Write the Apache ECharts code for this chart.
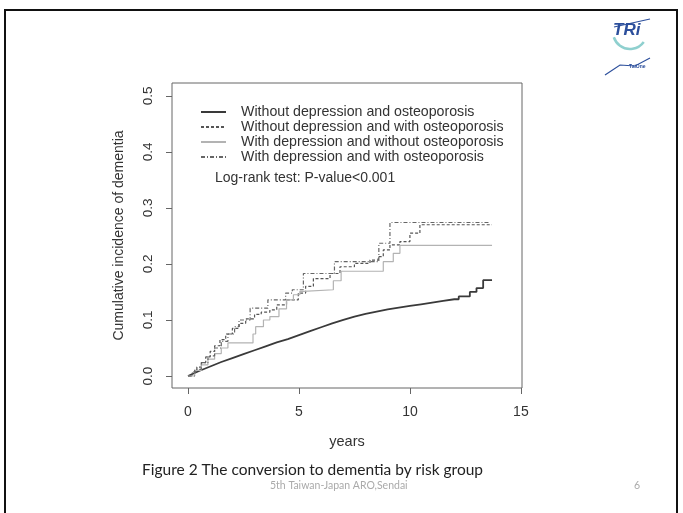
<!DOCTYPE html>
<html>
<head>
<meta charset="utf-8">
<script src="https://cdn.jsdelivr.net/npm/echarts@6/dist/echarts.min.js"></script>
<style>
html,body{margin:0;padding:0;background:#fff;}
#chart{width:683px;height:513px;}
</style>
</head>
<body>
<div id="chart"></div>
<script>
// ---- data ----
const seriesNames = [
  "Without depression and osteoporosis",
  "Without depression and with osteoporosis",
  "With depression and without osteoporosis",
  "With depression and with osteoporosis"
];
const xTicks = [0, 5, 10, 15];
const yTicks = [0, 0.1, 0.2, 0.3, 0.4, 0.5];

const years1 = [0,0.5,1,1.5,2,2.5,3,3.5,4,4.5,5,5.5,6,6.5,7,7.5,8,8.5,9,9.5,10,10.5,11,11.5,12,12.2,12.2,12.7,12.7,13.0,13.0,13.3,13.3,13.7];
const inc1   = [0,0.009,0.017,0.025,0.032,0.039,0.046,0.053,0.060,0.066,0.073,0.080,0.087,0.094,0.100,0.106,0.111,0.115,0.119,0.122,0.125,0.128,0.131,0.134,0.137,0.137,0.142,0.142,0.150,0.150,0.157,0.157,0.171,0.171];

const years2 = [0,0.2,0.4,0.6,0.8,1.0,1.2,1.44,1.7,2.0,2.3,2.6,3.0,3.3,3.69,4.0,4.44,4.97,5.3,5.65,6.4,6.85,7.5,8.2,8.57,8.8,9.1,9.55,10.0,10.45,13.7];
const inc2   = [0,0.008,0.016,0.024,0.034,0.044,0.054,0.065,0.075,0.085,0.094,0.102,0.110,0.114,0.118,0.127,0.136,0.148,0.160,0.174,0.183,0.195,0.201,0.207,0.213,0.225,0.234,0.240,0.255,0.270,0.270];

const years3 = [0,0.3,0.6,0.9,1.2,1.5,1.8,2.93,3.05,3.4,3.69,4.1,4.44,4.75,5.04,5.2,6.55,6.9,8.8,9.25,9.55,13.7];
const inc3   = [0,0.010,0.020,0.030,0.040,0.050,0.059,0.075,0.088,0.100,0.106,0.120,0.136,0.145,0.151,0.154,0.170,0.187,0.204,0.219,0.233,0.233];

const years4 = [0,0.3,0.6,0.9,1.2,1.5,1.8,2.1,2.3,2.8,3.6,4.4,4.7,5.2,6.6,8.6,9.1,13.6];
const inc4   = [0,0.012,0.024,0.036,0.050,0.062,0.075,0.088,0.100,0.121,0.136,0.148,0.154,0.183,0.204,0.237,0.274,0.274];

const zip = (a, b) => a.map((x, i) => [x, b[i]]);

const chart = echarts.init(document.getElementById('chart'), null, {renderer: 'canvas'});
const font = '"Liberation Sans", Arial, sans-serif';

chart.setOption({
  backgroundColor: '#ffffff',
  animation: false,
  grid: {left: 172, top: 83, width: 350, height: 305, show: true, borderColor: '#666', borderWidth: 1, backgroundColor: 'transparent'},
  xAxis: {
    type: 'value', min: -0.72, max: 15.05,
    name: 'years', nameLocation: 'middle', nameGap: 46,
    nameTextStyle: {fontFamily: font, fontSize: 14.5, color: '#333'},
    axisLine: {show: false, onZero: false},
    axisTick: {show: true, inside: false, length: 6, customValues: xTicks, lineStyle: {color: '#666'}},
    axisLabel: {customValues: xTicks, margin: 17, fontFamily: font, fontSize: 14, color: '#333'},
    splitLine: {show: false}
  },
  yAxis: {
    type: 'value', min: -0.0214, max: 0.523,
    name: 'Cumulative incidence of dementia', nameLocation: 'middle', nameGap: 46,
    nameTextStyle: {fontFamily: font, fontSize: 14, color: '#333'},
    axisLine: {show: false, onZero: false},
    axisTick: {show: true, inside: false, length: 6, customValues: yTicks, lineStyle: {color: '#666'}},
    axisLabel: {customValues: yTicks, rotate: 90, margin: 17, fontFamily: font, fontSize: 13.5, color: '#333',
      formatter: v => v.toFixed(1)},
    splitLine: {show: false}
  },
  legend: {
    left: 195, top: 100, orient: 'vertical', itemGap: 1, itemWidth: 25, itemHeight: 12,
    itemStyle: {color: 'rgba(0,0,0,0)', borderWidth: 0, opacity: 0},
    textStyle: {fontFamily: font, fontSize: 14.2, color: '#333', padding: [0, 0, 0, 10], lineHeight: 14},
    data: seriesNames.map(n => ({name: n}))
  },
  series: [
    {name: seriesNames[0], type: 'line', data: zip(years1, inc1), showSymbol: false, symbol: 'none',
      lineStyle: {color: '#3a3a3a', width: 1.8}, itemStyle: {color: '#3a3a3a'}},
    {name: seriesNames[1], type: 'line', step: 'end', data: zip(years2, inc2), showSymbol: false, symbol: 'none',
      lineStyle: {color: '#555', width: 1.2, type: [3, 2]}, itemStyle: {color: '#555'}},
    {name: seriesNames[2], type: 'line', step: 'end', data: zip(years3, inc3), showSymbol: false, symbol: 'none',
      lineStyle: {color: '#b3b3b3', width: 1.2}, itemStyle: {color: '#b3b3b3'}},
    {name: seriesNames[3], type: 'line', step: 'end', data: zip(years4, inc4), showSymbol: false, symbol: 'none',
      lineStyle: {color: '#666', width: 1.2, type: [4, 2, 1, 2]}, itemStyle: {color: '#666'}}
  ],
  graphic: [
    {type: 'rect', shape: {x: 5, y: 10, width: 672, height: 520}, style: {fill: 'none', stroke: '#111', lineWidth: 2}, silent: true},
    {type: 'text', left: 215, top: 171, style: {text: 'Log-rank test: P-value<0.001', font: '14px "Liberation Sans", Arial', fill: '#333'}},
    {type: 'text', left: 142, top: 462, style: {text: 'Figure 2 The conversion to dementia by risk group', font: '15.5px Lato, "Open Sans", sans-serif', fill: '#222'}},
    {type: 'text', left: 270, top: 480, style: {text: '5th Taiwan-Japan ARO,Sendai', font: '10.5px Lato, sans-serif', fill: '#aaa'}},
    {type: 'text', left: 634, top: 480, style: {text: '6', font: '10.5px Lato, sans-serif', fill: '#aaa'}},
    // logo
    {type: 'arc', shape: {cx: 630, cy: 32, r: 17, startAngle: Math.PI * 0.2, endAngle: Math.PI * 0.9}, style: {stroke: '#8fd0cf', lineWidth: 2.5, fill: 'none'}},
    {type: 'text', left: 613, top: 22, style: {text: 'TRi', font: 'italic bold 17px "Liberation Sans", Arial', fill: '#2c4f9c'}},
    {type: 'line', shape: {x1: 614, y1: 27, x2: 650, y2: 19}, style: {stroke: '#2c4f9c', lineWidth: 1.2}},
    {type: 'polyline', shape: {points: [[605, 75], [620, 65], [635, 66], [650, 58]]}, style: {stroke: '#2c4f9c', lineWidth: 1.2, fill: 'none'}},
    {type: 'text', left: 629, top: 64, style: {text: 'TaiOne', font: 'bold 5px "Liberation Sans"', fill: '#2c4f9c'}}
  ]
});
</script>
</body>
</html>
